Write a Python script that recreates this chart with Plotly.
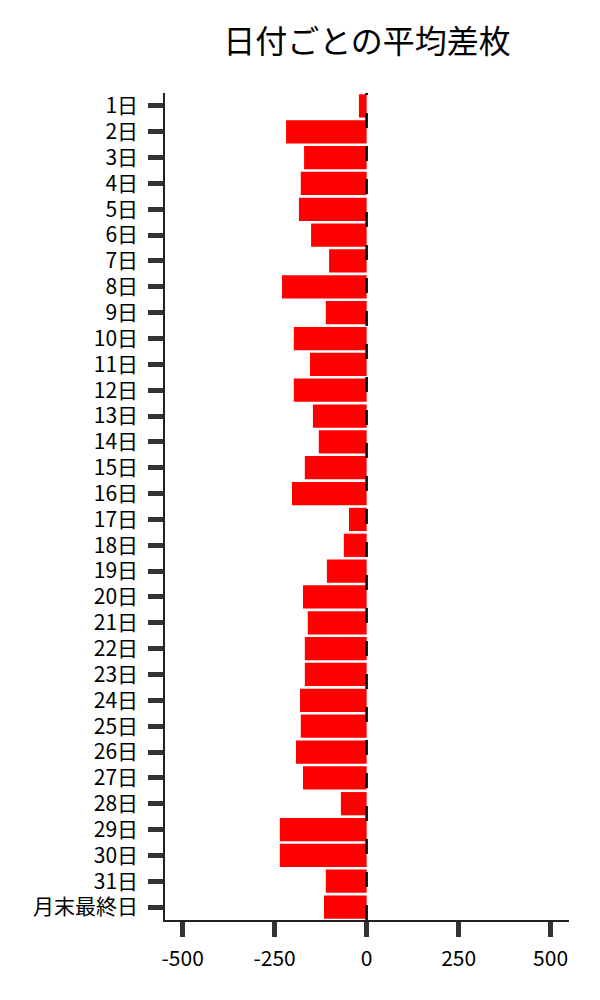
import plotly.graph_objects as go

# Categories (day of month) and average difference values
days = [f"{d}日" for d in range(1, 32)] + ["月末最終日"]
avg_diff = [
    -21, -219, -170, -179, -184, -151, -102, -230, -111, -198,
    -154, -198, -146, -130, -168, -203, -48, -62, -108, -173,
    -160, -168, -168, -181, -179, -192, -173, -70, -236, -236,
    -111, -116,
]
x_ticks = [-500, -250, 0, 250, 500]

font_family = "Noto Sans CJK JP"

fig = go.Figure()

fig.add_trace(go.Bar(
    x=avg_diff,
    y=days,
    orientation="h",
    marker=dict(color="#ff0000", line=dict(width=0)),
))

# Dashed zero line
fig.add_shape(
    type="line",
    x0=0, x1=0, xref="x",
    y0=0, y1=1, yref="paper",
    line=dict(color="black", width=2.5, dash="15px,18px"),
)

fig.update_layout(
    width=600,
    height=1000,
    title=dict(
        text="日付ごとの平均差枚",
        x=0.5, xref="paper", xanchor="center",
        y=0.966, yanchor="middle",
        font=dict(family=font_family, size=32, color="black"),
    ),
    font=dict(family=font_family, size=21, color="black"),
    margin=dict(l=157, r=39, t=85, b=88),
    plot_bgcolor="white",
    paper_bgcolor="white",
    bargap=0.1,
    showlegend=False,
    xaxis=dict(
        range=[-548, 550],
        tickvals=x_ticks,
        ticktext=[str(v) for v in x_ticks],
        ticks="outside",
        ticklen=15,
        tickwidth=5,
        tickcolor="#333333",
        ticklabelstandoff=4,
        showline=True,
        linecolor="#222222",
        linewidth=1.5,
        showgrid=False,
        zeroline=False,
    ),
    yaxis=dict(
        categoryorder="array",
        categoryarray=days,
        autorange="reversed",
        ticks="outside",
        ticklen=15,
        tickwidth=5,
        tickcolor="#333333",
        ticklabelstandoff=6,
        showline=True,
        linecolor="#222222",
        linewidth=1.5,
        showgrid=False,
        zeroline=False,
    ),
)

fig.write_html("out.html")
